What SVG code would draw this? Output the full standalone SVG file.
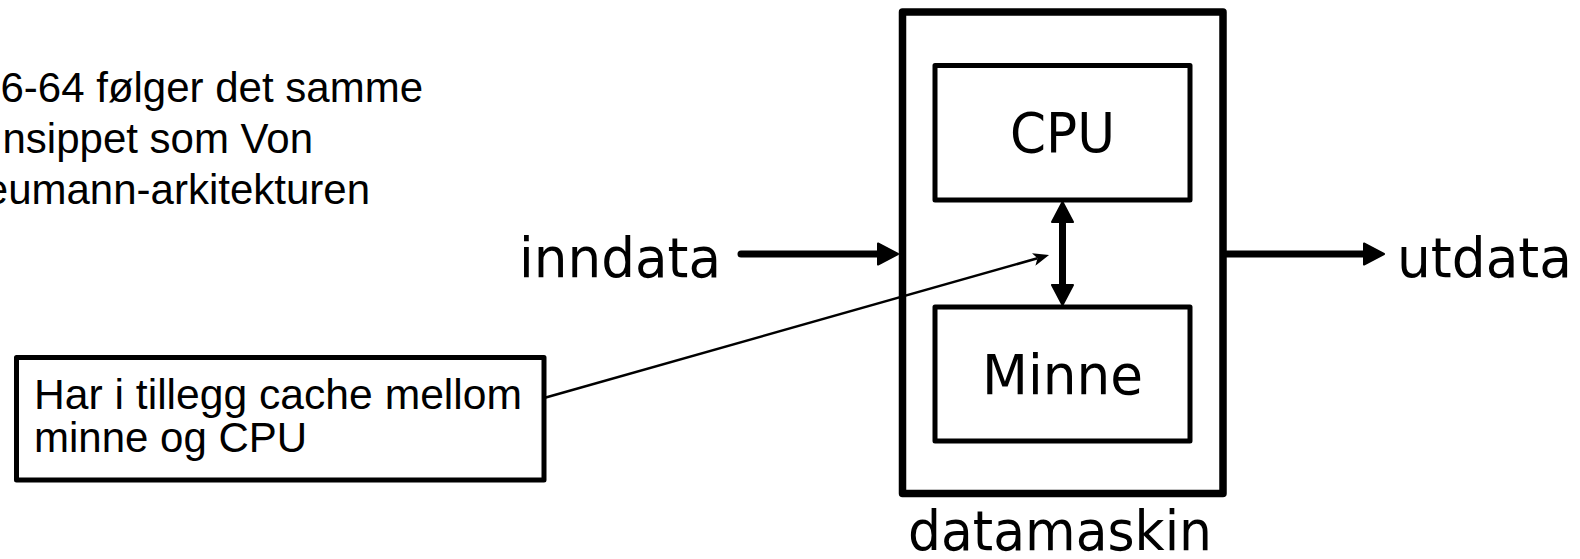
<svg xmlns="http://www.w3.org/2000/svg" width="1580" height="559" viewBox="0 0 1580 559">
<style>
.arial{font-family:"Liberation Sans",Arial,sans-serif;font-size:42px;fill:#000}
.luc{font-family:"DejaVu Sans","Noto Sans",sans-serif;font-size:56px;fill:#000}
.box{fill:#fff;stroke:#000;stroke-linejoin:round}
.thick{stroke:#000;stroke-width:7;fill:none}
.thin{stroke:#000;stroke-width:2.5;fill:none}
</style>
<defs>
<marker id="head" viewBox="0 0 22 24" refX="0" refY="12" markerWidth="22" markerHeight="24" markerUnits="userSpaceOnUse" orient="auto-start-reverse">
<path d="M1,1.5 L21,12 L1,22.5 Z" fill="#000" stroke="#000" stroke-width="2" stroke-linejoin="round"/>
</marker>
<marker id="thinhead" viewBox="0 0 16 13" refX="4" refY="6.5" markerWidth="16" markerHeight="13" markerUnits="userSpaceOnUse" orient="auto">
<path d="M0,0 L16,6.5 L0,13 L4,6.5 Z" fill="#000"/>
</marker>
</defs>
<rect width="1580" height="559" fill="#fff"/>

<g id="intro-text">
<text class="arial" text-anchor="end" x="423" y="102">6-64 følger det samme</text>
<text class="arial" text-anchor="end" x="313" y="153">nsippet som Von</text>
<text class="arial" text-anchor="end" x="370" y="204">eumann-arkitekturen</text>
</g>

<g id="datamaskin">
<rect class="box" x="902.5" y="12" width="320.5" height="481.5" stroke-width="7.5"/>
<text class="luc" x="908" y="550" font-size="54" textLength="304" lengthAdjust="spacingAndGlyphs">datamaskin</text>
</g>

<g id="cpu">
<rect class="box" x="935" y="65.5" width="255" height="134.5" stroke-width="5"/>
<text class="luc" x="1062.5" y="152" text-anchor="middle" textLength="105" lengthAdjust="spacingAndGlyphs">CPU</text>
</g>

<g id="minne">
<rect class="box" x="935" y="307" width="255" height="134" stroke-width="5"/>
<text class="luc" x="1062.5" y="394" text-anchor="middle" textLength="161" lengthAdjust="spacingAndGlyphs">Minne</text>
</g>

<g id="inndata">
<text class="luc" x="519" y="277" textLength="202" lengthAdjust="spacingAndGlyphs">inndata</text>
</g>

<g id="utdata">
<text class="luc" x="1397" y="277" textLength="175" lengthAdjust="spacingAndGlyphs">utdata</text>
</g>

<g id="callout">
<rect class="box" x="16.5" y="357.5" width="527.5" height="122.5" stroke-width="5"/>
<text class="arial" x="34" y="409" font-size="43" textLength="488" lengthAdjust="spacingAndGlyphs">Har i tillegg cache mellom</text>
<text class="arial" x="34" y="452" font-size="43">minne og CPU</text>
</g>

<g id="connectors">
<line class="thick" x1="741" y1="254" x2="877" y2="254" stroke-linecap="round" marker-end="url(#head)"/>
<line class="thick" x1="1223" y1="254" x2="1363" y2="254" marker-end="url(#head)"/>
<line class="thick" x1="1062.5" y1="223" x2="1062.5" y2="284" stroke-width="6" marker-start="url(#head)" marker-end="url(#head)"/>
<line class="thin" x1="544" y1="398" x2="1037.5" y2="258.3" marker-end="url(#thinhead)"/>
</g>
</svg>
